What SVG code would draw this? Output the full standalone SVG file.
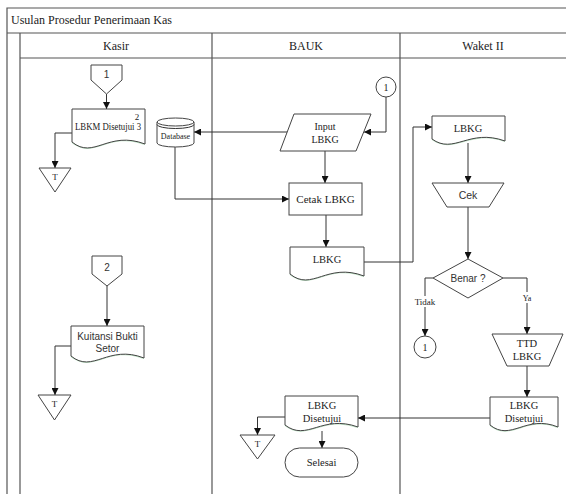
<svg xmlns="http://www.w3.org/2000/svg" width="566" height="494" viewBox="0 0 566 494">
<defs>
<marker id="ah" viewBox="0 0 10 10" refX="10" refY="5" markerWidth="7" markerHeight="7" markerUnits="userSpaceOnUse" orient="auto">
<path d="M0,0 L10,5 L0,10 Z" fill="#111"/>
</marker>
<style>
.frame{stroke:#555;stroke-width:1.2;fill:none}
.sh{fill:#fff;stroke:#444;stroke-width:1}
.wave{fill:none;stroke:#bfe3c6;stroke-width:2}
.c{fill:none;stroke:#333;stroke-width:1;marker-end:url(#ah)}
.cl{fill:none;stroke:#333;stroke-width:1}
.s{font-family:"Liberation Serif","Times New Roman",serif;fill:#222;text-anchor:middle}
.n{font-family:"Liberation Sans",Arial,sans-serif;fill:#333;text-anchor:middle}
</style>
</defs>
<rect width="566" height="494" fill="#fff"/>
<g id="frame">
<path class="frame" d="M7,494 V8 H566 M7,33 H566 M20,33 V494 M20,58 H566 M212,33 V494 M400,33 V494"/>
<text x="11" y="24" font-family="Liberation Serif,serif" font-size="12" fill="#222">Usulan Prosedur Penerimaan Kas</text>
<text class="s" x="116" y="50" font-size="12">Kasir</text>
<text class="s" x="306" y="50" font-size="12">BAUK</text>
<text class="s" x="483" y="50" font-size="12">Waket II</text>
</g>
<g id="connectors">
<path class="c" d="M106.5,94 V109"/>
<path class="c" d="M72,133 H55 V168"/>
<path class="c" d="M288,132 H194"/>
<path class="c" d="M386,97 V132 H364"/>
<path class="c" d="M325,151 V183"/>
<path class="c" d="M175,147 V199 H289"/>
<path class="c" d="M326,215 V247"/>
<path class="c" d="M364,262 H413 V127 H432"/>
<path class="c" d="M468,143 V183"/>
<path class="c" d="M468,207 V259"/>
<path class="c" d="M433,278 H425 V336"/>
<path class="c" d="M503,278 H527 V334"/>
<path class="c" d="M527,366 V397"/>
<path class="c" d="M490,418 H358"/>
<path class="c" d="M285,417 H257.5 V435"/>
<path class="c" d="M322,431 V448"/>
<path class="c" d="M107,286 V326"/>
<path class="c" d="M71,346 H55 V395"/>
<rect x="411" y="296" width="28" height="11" fill="#fff"/>
<text class="s" x="425" y="305" font-size="9">Tidak</text>
<rect x="520" y="292" width="14" height="11" fill="#fff"/>
<text class="s" x="527" y="301" font-size="8">Ya</text>
</g>
<g id="off1">
<path class="sh" d="M91,65 H122 V80 L106.5,94 L91,80 Z"/>
<text class="n" x="106.5" y="78" font-size="10">1</text>
</g>
<g id="lbkm">
<path class="wave" d="M72,142 C94,160 108,130 145,144"/>
<path class="sh" d="M72,109 H145 V144 C108,130 94,160 72,142 Z"/>
<text class="s" x="108" y="130" font-size="10" textLength="66" lengthAdjust="spacingAndGlyphs">LBKM Disetujui 3</text>
<text class="s" x="137" y="120" font-size="9">2</text>
</g>
<g id="t1">
<path class="sh" d="M39,168 H71 L55,192 Z"/>
<text class="s" x="55" y="180" font-size="9">T</text>
</g>
<g id="db">
<path class="sh" d="M157,122 V143 A18.5,4 0 0 0 194,143 V122"/>
<ellipse class="sh" cx="175.5" cy="122" rx="18.5" ry="4"/>
<path class="cl" d="M157,124.5 A18.5,4 0 0 0 194,124.5"/>
<text class="s" x="175.5" y="139" font-size="8">Database</text>
</g>
<g id="off2">
<path class="sh" d="M92,256 H122 V274 L107,286 L92,274 Z"/>
<text class="n" x="107" y="271" font-size="10">2</text>
</g>
<g id="kuitansi">
<path class="wave" d="M71,356 C93,374 108,344 144,358"/>
<path class="sh" d="M71,326 H144 V358 C108,344 93,374 71,356 Z"/>
<text class="n" x="107.5" y="340" font-size="10">Kuitansi Bukti</text>
<text class="n" x="107.5" y="352" font-size="10">Setor</text>
</g>
<g id="t2">
<path class="sh" d="M38,395 H71 L54.5,420 Z"/>
<text class="s" x="54.5" y="407" font-size="9">T</text>
</g>
<g id="c1a">
<circle class="sh" cx="386" cy="87" r="10"/>
<text class="s" x="386" y="91" font-size="10">1</text>
</g>
<g id="input">
<path class="sh" d="M294,114 H371 L356,151 H280 Z"/>
<text class="s" x="325" y="130" font-size="10">Input</text>
<text class="s" x="325" y="143" font-size="10">LBKG</text>
</g>
<g id="cetak">
<rect class="sh" x="289" y="183" width="73" height="32"/>
<text class="s" x="325.5" y="203" font-size="11">Cetak LBKG</text>
</g>
<g id="lbkg1">
<path class="wave" d="M290,274 C312,292 327,262 364,276"/>
<path class="sh" d="M290,247 H364 V276 C327,262 312,292 290,274 Z"/>
<text class="s" x="327" y="263" font-size="10.5">LBKG</text>
</g>
<g id="lbkg2">
<path class="wave" d="M432,139 C454,155 469,128 505,141"/>
<path class="sh" d="M432,116 H505 V141 C469,128 454,155 432,139 Z"/>
<text class="s" x="468" y="132" font-size="10.5">LBKG</text>
</g>
<g id="cek">
<path class="sh" d="M432,183 H504 L489,207 H447 Z"/>
<text class="n" x="468" y="199" font-size="10.5">Cek</text>
</g>
<g id="benar">
<path class="sh" d="M468,259 L503,278 L468,298 L433,278 Z"/>
<text class="n" x="468" y="282" font-size="10">Benar ?</text>
</g>
<g id="c1b">
<circle class="sh" cx="425" cy="347" r="11"/>
<text class="s" x="425" y="351" font-size="10">1</text>
</g>
<g id="ttd">
<path class="sh" d="M492,334 H563 L549,366 H507 Z"/>
<text class="s" x="527" y="347" font-size="10.5">TTD</text>
<text class="s" x="527" y="360" font-size="10.5">LBKG</text>
</g>
<g id="disetujui2">
<path class="wave" d="M490,425 C511,442 526,414 558,427"/>
<path class="sh" d="M490,397 H558 V427 C526,414 511,442 490,425 Z"/>
<text class="s" x="524" y="409" font-size="10.5">LBKG</text>
<text class="s" x="524" y="422" font-size="10.5">Disetujui</text>
</g>
<g id="disetujui1">
<path class="wave" d="M285,425 C307,442 322,414 358,427"/>
<path class="sh" d="M285,396 H358 V427 C322,414 307,442 285,425 Z"/>
<text class="s" x="322" y="409" font-size="10.5">LBKG</text>
<text class="s" x="322" y="422" font-size="10.5">Disetujui</text>
</g>
<g id="t3">
<path class="sh" d="M240,435 H275 L257.5,459 Z"/>
<text class="s" x="257.5" y="447" font-size="9">T</text>
</g>
<g id="selesai">
<rect class="sh" x="285" y="448" width="73" height="29" rx="14.5"/>
<text class="s" x="321.5" y="466" font-size="10.5">Selesai</text>
</g>
</svg>
